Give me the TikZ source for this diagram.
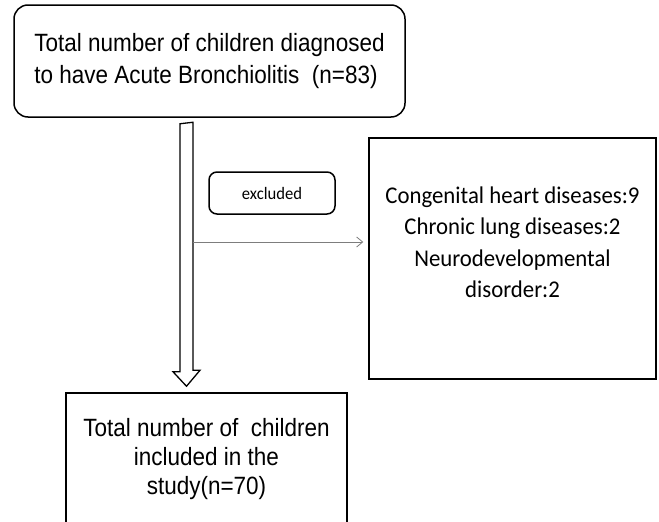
\documentclass[tikz,border=0pt]{standalone}
\usepackage{fontspec}
\usetikzlibrary{arrows.meta}
\newfontfamily\arialfont[FakeStretch=0.9]{Liberation Sans}
\newfontfamily\calfont[FakeStretch=0.95]{Carlito}
\definecolor{arrowgray}{RGB}{125,125,125}

\begin{document}
\begin{tikzpicture}[x=1pt,y=-1pt,
  box/.style={draw=black, line width=1.5pt, inner sep=0pt},
  roundbox/.style={box, rounded corners=14pt},
  blockarrow/.style={draw=black, line width=1.3pt, fill=white},
  thinarrow/.style={draw=arrowgray, line width=0.8pt, -{Straight Barb[length=6pt,width=10pt]}}]
  \clip (0,0) rectangle (659,522);

  \node[roundbox, minimum width=391pt, minimum height=112pt, align=left,
        font=\arialfont\fontsize{25}{32}\selectfont] (total) at (209.5,61)
    {Total number of children diagnosed\\to have Acute Bronchiolitis\ \ (n=83)};
  \node[roundbox, rounded corners=8pt, minimum width=126pt, minimum height=42pt,
        font=\calfont\fontsize{17.5}{20}\selectfont] (excl) at (272,193) {excluded};
  \node[box, minimum width=287pt, minimum height=241pt] (list) at (512.5,258.5) {};
  \node[align=center, font=\calfont\fontsize{24}{31.5}\selectfont] (listtxt)
    at ([yshift=16pt]list.center)
    {Congenital heart diseases:9\\Chronic lung diseases:2\\Neurodevelopmental\\disorder:2};
  \node[box, minimum width=281pt, minimum height=133pt, align=center,
        font=\arialfont\fontsize{25}{29}\selectfont] (inc) at (206.5,459.5)
    {Total number of\ \ children\\included in the\\study(n=70)};

  % hollow arrow down
  \path (total.south) ++(-23,6) coordinate (s);
  \path (inc.north) ++(-20,-6) coordinate (tip);
  \draw[blockarrow] (s) ++(-6.5,0) -- ++(0,248) -- ++(-7,0) -- (tip)
    -- ++(13.5,-16) -- ++(-7,0) -- ++(0,-248) -- cycle;

  \coordinate (tap) at (193,242);
  \draw[thinarrow, shorten >=5pt] (tap) -- (tap -| list.west);
\end{tikzpicture}
\end{document}
